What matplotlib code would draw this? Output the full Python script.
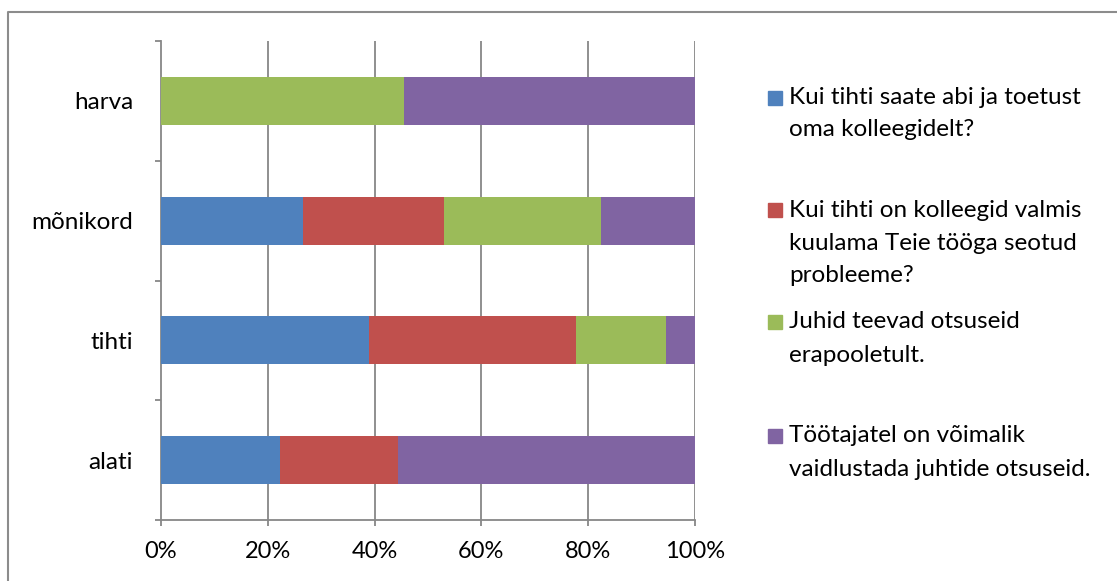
import matplotlib
matplotlib.use("Agg")
import matplotlib.pyplot as plt
from matplotlib.lines import Line2D
from matplotlib.patches import Rectangle
import numpy as np

plt.rcParams['font.family'] = ['Lato', 'DejaVu Sans']

categories = ['alati', 'tihti', 'mõnikord', 'harva']
series_labels = [
    'Kui tihti saate abi ja toetust\noma kolleegidelt?',
    'Kui tihti on kolleegid valmis\nkuulama Teie tööga seotud\nprobleeme?',
    'Juhid teevad otsuseid\nerapooletult.',
    'Töötajatel on võimalik\nvaidlustada juhtide otsuseid.',
]
# percentages per category (alati, tihti, mõnikord, harva)
s_blue = [22.2, 38.9, 26.5, 0.0]
s_red = [22.2, 38.9, 26.5, 0.0]
s_green = [0.0, 16.7, 29.4, 45.5]
s_purple = [55.6, 5.5, 17.6, 54.5]
xticks = [0, 20, 40, 60, 80, 100]
xticklabels = ['0%', '20%', '40%', '60%', '80%', '100%']

colors = ['#4F81BD', '#C0504D', '#9BBB59', '#8064A2']
series = [s_blue, s_red, s_green, s_purple]

FS = 17.5
W, H = 1117, 581
fig = plt.figure(figsize=(W / 100, H / 100), dpi=100)
ax = fig.add_axes([161 / W, 61 / H, 534 / W, 479 / H])

y = np.arange(len(categories))
left = np.zeros(len(categories))
for vals, c in zip(series, colors):
    ax.barh(y, vals, left=left, height=0.4, color=c, zorder=3)
    left += np.array(vals)

ax.set_xlim(0, 100)
ax.set_ylim(-0.5, len(categories) - 0.5)
grid_c = '#878787'
ax.set_xticks(xticks)
ax.set_xticklabels(xticklabels, fontsize=FS - 0.5)
for xv in xticks[1:]:
    ax.axvline(xv, color=grid_c, lw=1.3, zorder=1)
ax.set_yticks(y)
ax.set_yticklabels(categories, fontsize=FS)
ax.set_yticks(np.arange(-0.5, len(categories), 1.0), minor=True)
ax.tick_params(axis='y', which='major', length=0, pad=20)
ax.tick_params(axis='y', which='minor', length=4, color=grid_c, width=1.3)
ax.tick_params(axis='x', which='major', length=4, color=grid_c, width=1.3, pad=11)
for s in ['top', 'right']:
    ax.spines[s].set_visible(False)
for s in ['left', 'bottom']:
    ax.spines[s].set_color(grid_c)
    ax.spines[s].set_linewidth(1.3)

# outer frame (left and top edges)
fig.add_artist(Line2D([8 / W, 8 / W, 1.0], [0.0, 1 - 12 / H, 1 - 12 / H],
                      transform=fig.transFigure, color='#8c8c8c', lw=1.5))

# legend
line_centers = [[98, 130], [210, 243, 275], [322, 355], [436, 469]]
for lab, c, ys in zip(series_labels, colors, line_centers):
    sq = 14
    fig.add_artist(Rectangle((768 / W, 1 - (ys[0] + sq / 2) / H), sq / W, sq / H,
                             transform=fig.transFigure, color=c))
    for line, yy in zip(lab.split('\n'), ys):
        fig.text(789 / W, 1 - yy / H, line, fontsize=FS, va='center', ha='left')

fig.savefig('out.png', dpi=100)
